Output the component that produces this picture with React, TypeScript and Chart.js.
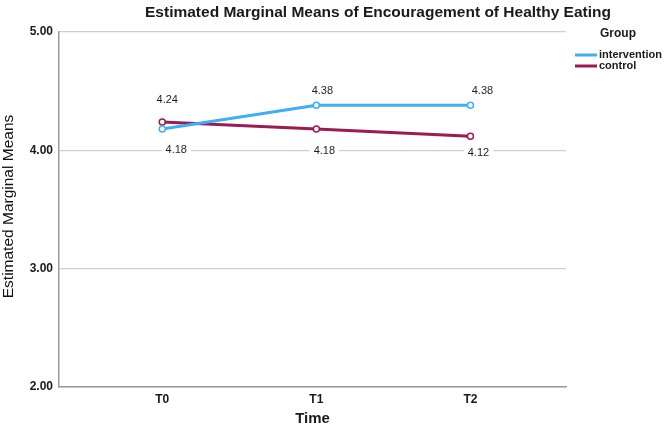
import React, { useEffect, useRef } from "react";
import { Chart, registerables } from "chart.js";

Chart.register(...registerables);

// Time points and the estimated marginal means per group
const TIME_POINTS = ["T0", "T1", "T2"];
const INTERVENTION = [4.18, 4.38, 4.38];
const CONTROL = [4.24, 4.18, 4.12];
const Y_TICKS = [2, 3, 4, 5];

const TITLE = "Estimated Marginal Means of Encouragement of Healthy Eating";
const Y_TITLE = "Estimated Marginal Means";
const X_TITLE = "Time";
const LEGEND_TITLE = "Group";

const BLUE = "#3DAEF7";
const MAROON = "#9C1B51";
const FONT = "'Liberation Sans', Arial, sans-serif";

// Where each value label sits relative to its point: [dx, dy] in px
const LABEL_OFFSETS = [
  [[14, 21], [6, -14], [12, -14]],
  [[5, -22], [8, 22], [8, 17]],
];

const valueLabels = {
  id: "valueLabels",
  afterDatasetsDraw(chart: any) {
    const ctx = chart.ctx;
    ctx.save();
    ctx.font = `11px ${FONT}`;
    ctx.textAlign = "center";
    ctx.textBaseline = "middle";
    chart.data.datasets.forEach((ds: any, di: number) => {
      const meta = chart.getDatasetMeta(di);
      meta.data.forEach((pt: any, i: number) => {
        const text = ds.data[i].y.toFixed(2);
        const [dx, dy] = LABEL_OFFSETS[di][i];
        const x = pt.x + dx;
        const y = pt.y + dy;
        const w = ctx.measureText(text).width;
        ctx.fillStyle = "#ffffff";
        ctx.fillRect(x - w / 2 - 4, y - 6, w + 8, 12);
        ctx.fillStyle = "#1f1f1f";
        ctx.fillText(text, x, y);
      });
    });
    ctx.restore();
  },
};

const decorations = {
  id: "decorations",
  afterDraw(chart: any) {
    const ctx = chart.ctx;
    const area = chart.chartArea;
    ctx.save();
    // chart title
    ctx.fillStyle = "#1a1a1a";
    ctx.font = `bold 15.5px ${FONT}`;
    ctx.textAlign = "center";
    ctx.textBaseline = "middle";
    ctx.fillText(TITLE, 378, 13);

    // y-axis title
    ctx.save();
    ctx.translate(9, (area.top + area.bottom) / 2 - 3);
    ctx.rotate(-Math.PI / 2);
    ctx.font = `15.5px ${FONT}`;
    ctx.fillStyle = "#111111";
    ctx.fillText(Y_TITLE, 0, 0);
    ctx.restore();

    // legend
    const lx = area.right + 9;
    ctx.textAlign = "left";
    ctx.font = `bold 12px ${FONT}`;
    ctx.fillStyle = "#1a1a1a";
    ctx.fillText(LEGEND_TITLE, lx + 25, 34);
    ctx.font = `bold 11px ${FONT}`;
    chart.data.datasets.forEach((ds: any, i: number) => {
      const y = 55 + i * 11;
      ctx.strokeStyle = ds.borderColor;
      ctx.lineWidth = 3;
      ctx.beginPath();
      ctx.moveTo(lx, y);
      ctx.lineTo(lx + 22, y);
      ctx.stroke();
      ctx.fillStyle = "#1a1a1a";
      ctx.fillText(ds.label, lx + 24, y);
    });
    ctx.restore();
  },
};

export default function App() {
  const ref = useRef<HTMLCanvasElement | null>(null);

  useEffect(() => {
    document.body.style.margin = "0";
    const canvas = ref.current;
    if (!canvas) return;
    const makeSeries = (vals: number[]) => vals.map((y, x) => ({ x, y }));
    const chart = new Chart(canvas, {
      type: "line",
      data: {
        datasets: [
          {
            label: "intervention",
            data: makeSeries(INTERVENTION),
            borderColor: BLUE,
            backgroundColor: "#ffffff",
            borderWidth: 3,
            pointRadius: 3,
            pointBorderWidth: 1.5,
            pointBackgroundColor: "#ffffff",
            pointBorderColor: BLUE,
          },
          {
            label: "control",
            data: makeSeries(CONTROL),
            borderColor: MAROON,
            backgroundColor: "#ffffff",
            borderWidth: 3,
            pointRadius: 3,
            pointBorderWidth: 1.5,
            pointBackgroundColor: "#ffffff",
            pointBorderColor: MAROON,
          },
        ],
      },
      options: {
        responsive: false,
        animation: false,
        layout: { padding: { top: 32, right: 100, left: 0, bottom: 0 } },
        plugins: {
          legend: { display: false },
          title: { display: false },
          tooltip: { enabled: false },
        },
        scales: {
          x: {
            type: "linear",
            min: -0.67,
            max: 2.62,
            afterBuildTicks: (scale: any) => {
              scale.ticks = TIME_POINTS.map((_, i) => ({ value: i }));
            },
            afterFit: (scale: any) => {
              scale.height = 41;
            },
            grid: { display: false, drawTicks: false },
            border: { display: true, color: "#9a9a9a", width: 1.5 },
            ticks: {
              padding: 5,
              color: "#1a1a1a",
              font: { family: FONT, size: 12, weight: "bold" },
              callback: (v: any) => TIME_POINTS[v] ?? "",
            },
            title: {
              display: true,
              text: X_TITLE,
              color: "#1a1a1a",
              font: { family: FONT, size: 15, weight: "bold" },
              padding: { top: 0, bottom: 0 },
            },
          },
          y: {
            min: 2,
            max: 5,
            afterBuildTicks: (scale: any) => {
              scale.ticks = Y_TICKS.map((v) => ({ value: v }));
            },
            afterFit: (scale: any) => {
              scale.width = 59;
            },
            grid: { color: "#cfcfcf", lineWidth: 1.2, drawTicks: false },
            border: { display: true, color: "#9a9a9a", width: 1.5 },
            ticks: {
              padding: 6,
              color: "#1a1a1a",
              font: { family: FONT, size: 12, weight: "bold" },
              callback: (v: any) => Number(v).toFixed(2),
            },
          },
        },
      },
      plugins: [valueLabels, decorations],
    });
    return () => chart.destroy();
  }, []);

  return (
    <div style={{ width: 666, height: 428, background: "#ffffff" }}>
      <canvas ref={ref} width={666} height={428} />
    </div>
  );
}
